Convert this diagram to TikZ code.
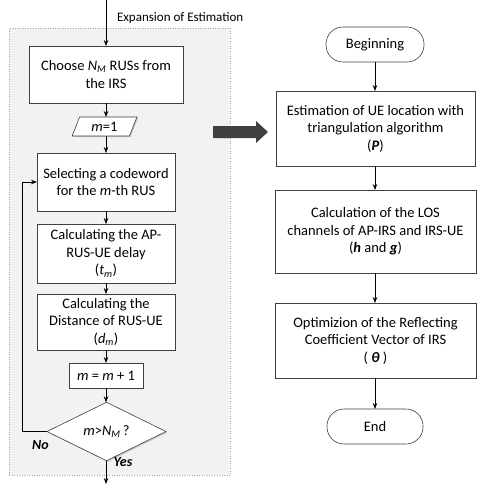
\documentclass[tikz,border=0pt]{standalone}
\usepackage{fontspec}
\setmainfont{Carlito}
\usetikzlibrary{shapes.geometric,shadows,arrows.meta}
\begin{document}
\begin{tikzpicture}[x=1pt,y=-1pt,
  font=\fontsize{14.5}{17.5}\selectfont,
  every node/.style={inner sep=0pt,outer sep=0pt},
  shad/.style={drop shadow={shadow xshift=1.2pt,shadow yshift=-1.2pt,opacity=0.35,fill=gray}},
  box/.style={draw=black!75,line width=0.6pt,fill=white,align=center,shad},
  term/.style={draw=black!75,line width=0.6pt,fill=white,rounded corners=17pt,align=center},
  arr/.style={draw=black,line width=0.7pt,-{Stealth[length=6pt,width=4.5pt]}},
  lbl/.style={font=\fontsize{14}{16}\selectfont\bfseries\itshape}
]
\useasboundingbox (0,0) rectangle (484,503);
% background region
\node[draw=gray!70,dotted,line width=0.5pt,fill=gray!10,minimum width=221pt,minimum height=447pt] (bg) at (119.5,251.5) {};
% left column
\coordinate (top) at (106,0);
\node[anchor=west,font=\fontsize{13}{15}\selectfont] (exp) at (117,18) {Expansion of Estimation};
\node[box,minimum width=154pt,minimum height=57pt] (b1) at (106,74.5) {Choose {\itshape N\textsubscript{M}} RUSs from\\the IRS};
\node[draw=black!75,line width=0.6pt,fill=white,trapezium,trapezium left angle=67,trapezium right angle=113,trapezium stretches=true,minimum width=65pt,minimum height=19pt,shad] (p1) at (104.5,126.5) {{\itshape m}=1};
\node[box,minimum width=138pt,minimum height=58pt] (b2) at (106,182) {Selecting a codeword\\for the {\itshape m}-th RUS};
\node[box,minimum width=138pt,minimum height=59pt] (b3) at (106,253.5) {Calculating the AP-\\RUS-UE delay\\({\itshape t\textsubscript{m}})};
\node[box,minimum width=138pt,minimum height=56pt] (b4) at (106,322) {Calculating the\\Distance of RUS-UE\\({\itshape d\textsubscript{m}})};
\node[box,minimum width=74pt,minimum height=25pt] (b5) at (106,375.5) {{\itshape m} = {\itshape m} + 1};
\node[draw=black!75,line width=0.6pt,fill=white,diamond,minimum width=119pt,minimum height=41pt,shad] (d) at (106.5,431.5) {{\itshape m}>{\itshape N\textsubscript{M}}\,?};
\coordinate (out) at (106,484);
\coordinate (loopA) at (22,431.5);
\coordinate (loopB) at (22,182);
\node[lbl] (no) at (40.5,445) {No};
\node[lbl] (yes) at (123,462) {Yes};
\draw[arr] (top) -- (b1);
\draw[arr] (b1) -- (b1 |- p1.north);
\draw[arr] (b1 |- p1.south) -- (b2);
\draw[arr] (b2) -- (b3);
\draw[arr] (b3) -- (b4);
\draw[arr] (b4) -- (b5);
\draw[arr] (b5) -- (b5 |- d.north);
\draw[arr] (b5 |- d.south) -- (out);
\draw[arr] (d.west) -- (loopA) -- (loopB) -- (b2.west);
% big arrow
\fill[black!75] (213,126) -- (256,126) -- (256,121) -- (268,132) -- (256,143) -- (256,138) -- (213,138) -- cycle;
% right column
\node[term,minimum width=98pt,minimum height=35pt] (beg) at (375,44.5) {Beginning};
\node[box,minimum width=199pt,minimum height=75pt] (r1) at (375.5,128.5) {Estimation of UE location with\\triangulation algorithm\\({\bfseries\itshape P})};
\node[box,minimum width=201pt,minimum height=83pt] (r2) at (375.5,231.5) {Calculation of the LOS\\channels of AP-IRS and IRS-UE\\({\bfseries\itshape h} and {\bfseries\itshape g})};
\node[box,minimum width=201pt,minimum height=75pt] (r3) at (375.5,340.5) {Optimizion of the Reflecting\\Coefficient Vector of IRS\\( {\bfseries\itshape θ} )};
\node[term,minimum width=96pt,minimum height=35pt] (end) at (375,426.5) {End};
\draw[arr] (beg) -- (beg |- r1.north);
\draw[arr] (beg |- r1.south) -- (beg |- r2.north);
\draw[arr] (beg |- r2.south) -- (beg |- r3.north);
\draw[arr] (beg |- r3.south) -- (end);
\end{tikzpicture}
\end{document}
